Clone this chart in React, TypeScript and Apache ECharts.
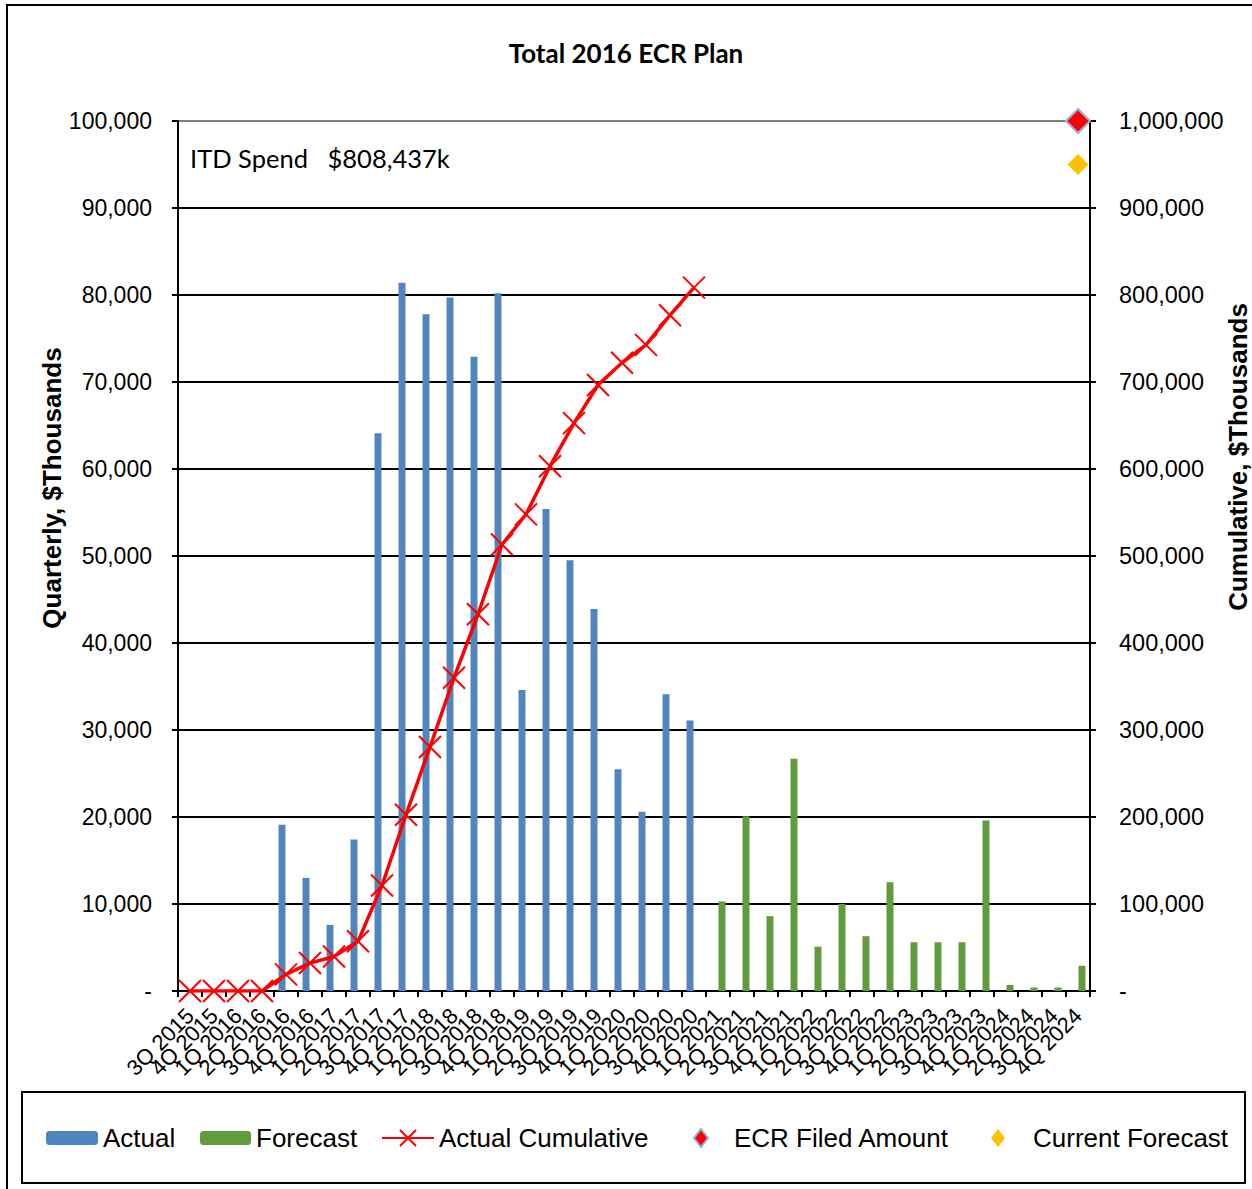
import React, { useEffect, useRef } from 'react';
import * as echarts from 'echarts';

const categories = [
  '3Q 2015', '4Q 2015', '1Q 2016', '2Q 2016', '3Q 2016', '4Q 2016', '1Q 2017', '2Q 2017',
  '3Q 2017', '4Q 2017', '1Q 2018', '2Q 2018', '3Q 2018', '4Q 2018', '1Q 2019', '2Q 2019',
  '3Q 2019', '4Q 2019', '1Q 2020', '2Q 2020', '3Q 2020', '4Q 2020', '1Q 2021', '2Q 2021',
  '3Q 2021', '4Q 2021', '1Q 2022', '2Q 2022', '3Q 2022', '4Q 2022', '1Q 2023', '2Q 2023',
  '3Q 2023', '4Q 2023', '1Q 2024', '2Q 2024', '3Q 2024', '4Q 2024',
];

const actual = [
  null, null, null, null, 19100, 13000, 7600, 17400, 64100, 81400, 77800, 79700, 72900, 80200,
  34600, 55400, 49500, 43900, 25500, 20600, 34100, 31100,
  null, null, null, null, null, null, null, null, null, null, null, null, null, null, null, null,
];

const forecast = [
  null, null, null, null, null, null, null, null, null, null, null, null, null, null, null, null,
  null, null, null, null, null, null,
  10300, 20100, 8600, 26700, 5100, 10000, 6300, 12500, 5600, 5600, 5600, 19600, 700, 400, 400, 2900,
];

const actualCumulative = [
  0, 0, 0, 0, 19100, 32100, 39700, 57100, 121200, 202600, 280400, 360100, 433000, 513200,
  547800, 603200, 652700, 696600, 722100, 742700, 776800, 808437,
  null, null, null, null, null, null, null, null, null, null, null, null, null, null, null, null,
];

const ecrFiledAmount = [['4Q 2024', 1000000]];
const currentForecast = [['4Q 2024', 950000]];

const leftTicks = { min: 0, max: 100000, interval: 10000 };
const rightTicks = { min: 0, max: 1000000, interval: 100000 };

const itdSpendText = 'ITD Spend   $808,437k';

const fmt = (v: number) => (v === 0 ? '-' : v.toLocaleString('en-US'));

const LABEL_FONT = '"Liberation Sans", Arial, sans-serif';
const CAL_FONT = 'Lato, "Open Sans", sans-serif';

const legendText = { fontFamily: LABEL_FONT, fontSize: 26, color: '#000', lineHeight: 26 };

export default function App() {
  const ref = useRef<HTMLDivElement>(null);
  useEffect(() => {
    const chart = echarts.init(ref.current!, null, { renderer: 'svg' });
    const splitColors = [] as string[];
    for (let i = 0; i < 10; i++) splitColors.push('#000000');
    splitColors.push('#808080');
    const option: any = {
      animation: false,
      backgroundColor: '#ffffff',
      title: {
        text: 'Total 2016 ECR Plan',
        left: 'center',
        top: 40,
        padding: 0,
        textStyle: { fontFamily: CAL_FONT, fontWeight: 'bold', fontSize: 26, color: '#000' },
      },
      grid: { left: 178, right: 162, top: 121, bottom: 198, containLabel: false },
      xAxis: {
        type: 'category',
        data: categories,
        axisLine: { lineStyle: { color: '#000', width: 2 } },
        axisTick: { show: true, length: 6, lineStyle: { color: '#000', width: 2 }, interval: 0 },
        axisLabel: {
          interval: 0,
          rotate: 45,
          margin: 21,
          fontFamily: LABEL_FONT,
          fontSize: 22,
          color: '#000',
        },
        splitLine: { show: false },
      },
      yAxis: [
        {
          type: 'value',
          ...leftTicks,
          position: 'left',
          axisLine: { show: true, lineStyle: { color: '#000', width: 2 } },
          axisTick: { show: true, length: 6, lineStyle: { color: '#000', width: 2 } },
          axisLabel: { formatter: fmt, margin: 26, fontFamily: LABEL_FONT, fontSize: 23, color: '#000' },
          splitLine: { show: true, lineStyle: { color: splitColors, width: 2 } },
        },
        {
          type: 'value',
          ...rightTicks,
          position: 'right',
          axisLine: { show: true, lineStyle: { color: '#000', width: 2 } },
          axisTick: { show: true, length: 6, lineStyle: { color: '#000', width: 2 } },
          axisLabel: { formatter: fmt, margin: 29, fontFamily: LABEL_FONT, fontSize: 23.5, color: '#000' },
          splitLine: { show: false },
        },
      ],
      legend: [
        {
          data: ['Actual'], left: 46, top: 1125, padding: 0, itemWidth: 52, itemHeight: 14,
          selectedMode: false, textStyle: legendText,
        },
        {
          data: ['Forecast'], left: 200, top: 1125, padding: 0, itemWidth: 51, itemHeight: 14,
          selectedMode: false, textStyle: legendText,
        },
        {
          data: ['Actual Cumulative'], left: 381, top: 1125, padding: 0, itemWidth: 52, itemHeight: 20,
          selectedMode: false, textStyle: legendText,
        },
        {
          data: ['ECR Filed Amount'], left: 693, top: 1125, padding: 0, itemWidth: 14, itemHeight: 18,
          selectedMode: false, textStyle: { ...legendText, padding: [0, 0, 0, 21] },
        },
        {
          data: ['Current Forecast'], left: 991, top: 1125, padding: 0, itemWidth: 14, itemHeight: 18,
          selectedMode: false, textStyle: { ...legendText, padding: [0, 0, 0, 23] },
        },
      ],
      series: [
        {
          name: 'Actual',
          type: 'bar',
          data: actual,
          barWidth: 7,
          barGap: '14%',
          itemStyle: { color: '#4F86BD' },
        },
        {
          name: 'Forecast',
          type: 'bar',
          data: forecast,
          barWidth: 7,
          barGap: '14%',
          itemStyle: { color: '#629B3E' },
        },
        {
          name: 'Actual Cumulative',
          type: 'line',
          yAxisIndex: 1,
          data: actualCumulative,
          symbol: 'path://M0,0L10,10M10,0L0,10',
          symbolSize: 22,
          showSymbol: true,
          lineStyle: { color: '#FF0000', width: 3.5 },
          itemStyle: { color: '#FF0000', borderColor: '#FF0000', borderWidth: 2 },
          z: 5,
        },
        {
          name: 'ECR Filed Amount',
          type: 'scatter',
          yAxisIndex: 1,
          data: ecrFiledAmount,
          symbol: 'diamond',
          symbolSize: 24,
          itemStyle: { color: '#FF0000', borderColor: '#95B3D7', borderWidth: 2, opacity: 1 },
          z: 6,
        },
        {
          name: 'Current Forecast',
          type: 'scatter',
          yAxisIndex: 1,
          data: currentForecast,
          symbol: 'diamond',
          symbolSize: 21,
          itemStyle: { color: '#FFC000', opacity: 1 },
          z: 6,
        },
      ],
      graphic: [
        {
          type: 'rect',
          shape: { x: 7, y: 5, width: 1260, height: 1200 },
          style: { fill: 'none', stroke: '#000', lineWidth: 2 },
          silent: true,
          z: -10,
        },
        {
          type: 'rect',
          shape: { x: 22, y: 1092, width: 1223, height: 91 },
          style: { fill: 'none', stroke: '#000', lineWidth: 2 },
          silent: true,
        },
        {
          type: 'text',
          x: 190,
          y: 158,
          style: {
            text: itdSpendText,
            fontFamily: CAL_FONT,
            fontSize: 25.5,
            fill: '#000',
            verticalAlign: 'middle',
          },
        },
        {
          type: 'text',
          x: 52,
          y: 488,
          rotation: Math.PI / 2,
          style: {
            text: 'Quarterly, $Thousands',
            fontFamily: LABEL_FONT,
            fontWeight: 'bold',
            fontSize: 26,
            fill: '#000',
            align: 'center',
            verticalAlign: 'middle',
          },
        },
        {
          type: 'text',
          x: 1238,
          y: 457,
          rotation: Math.PI / 2,
          style: {
            text: 'Cumulative, $Thousands',
            fontFamily: LABEL_FONT,
            fontWeight: 'bold',
            fontSize: 26,
            fill: '#000',
            align: 'center',
            verticalAlign: 'middle',
          },
        },
      ],
    };
    chart.setOption(option);
    return () => chart.dispose();
  }, []);
  return (
    <div
      ref={ref}
      style={{ position: 'absolute', left: 0, top: 0, width: 1252, height: 1189, background: '#fff' }}
    />
  );
}
